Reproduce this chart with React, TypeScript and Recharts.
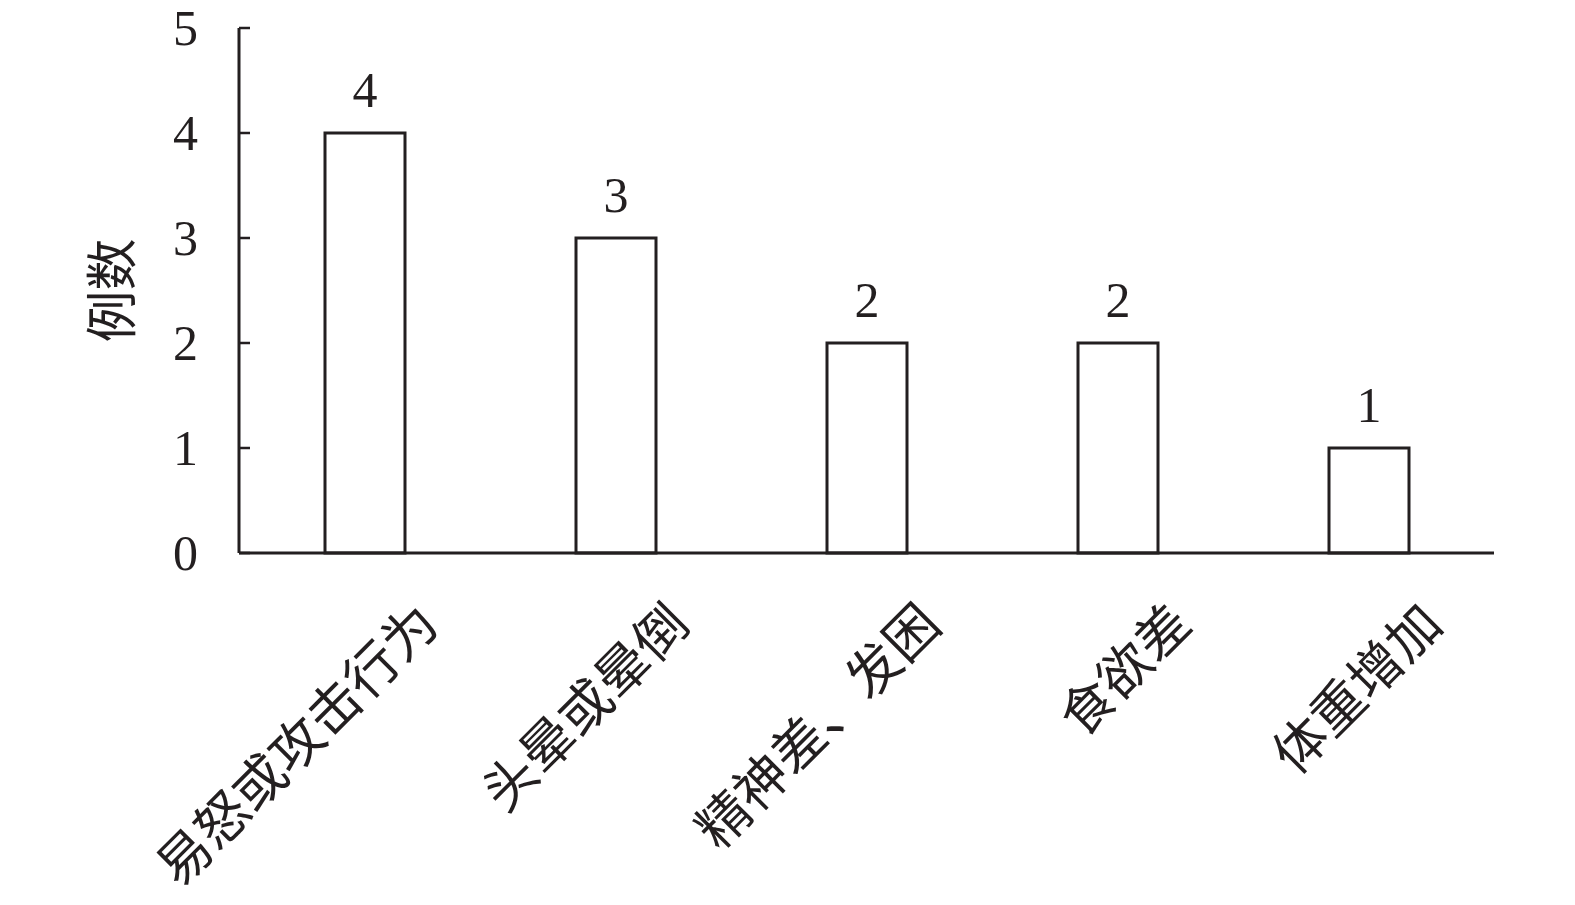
import React from 'react';
import { BarChart, Bar, XAxis, YAxis, LabelList, Label } from 'recharts';

// 不良反应类别与例数
const categories = ['易怒或攻击行为', '头晕或晕倒', '精神差、发困', '食欲差', '体重增加'];
const counts = [4, 3, 2, 2, 1];
const yTicks = [0, 1, 2, 3, 4, 5];

const data = categories.map((name, i) => ({ name, count: counts[i] }));

const INK = '#231f20';
const SERIF = '"Liberation Serif", "Times New Roman", serif';
const CJK = '"Noto Sans CJK SC", "Noto Sans", sans-serif';

// Y ticks: short inward tick mark plus a serif numeral to the left of the axis
const YTick = (props: any) => {
  const { x, y, payload } = props;
  return (
    <g>
      <line x1={x} x2={x + 11} y1={y} y2={y} stroke={INK} strokeWidth={2.5} />
      <text x={x - 41} y={y + 17} textAnchor="end" fontFamily={SERIF} fontSize={50} fill={INK}>
        {payload.value}
      </text>
    </g>
  );
};

// X ticks: category names rotated 45 degrees, ending just right of the bar
const XTick = (props: any) => {
  const { x, y, payload } = props;
  const ax = x + 77;
  const ay = y + 74;
  return (
    <text
      x={ax}
      y={ay}
      textAnchor="end"
      transform={`rotate(-45 ${ax} ${ay})`}
      fontFamily={CJK}
      fontSize={53}
      fill={INK}
    >
      {payload.value}
    </text>
  );
};

const ValueLabel = (props: any) => {
  const { x, y, width, value } = props;
  return (
    <text x={x + width / 2} y={y - 26} textAnchor="middle" fontFamily={SERIF} fontSize={50} fill={INK}>
      {value}
    </text>
  );
};

const YTitle = (props: any) => {
  const { viewBox } = props;
  const cx = viewBox.x + 19;
  const cy = viewBox.y + viewBox.height / 2;
  return (
    <text
      x={cx}
      y={cy}
      textAnchor="middle"
      dominantBaseline="central"
      transform={`rotate(-90 ${cx} ${cy})`}
      fontFamily={CJK}
      fontSize={52}
      fill={INK}
    >
      例数
    </text>
  );
};

export default function App() {
  return (
    <div style={{ background: '#fff', width: 1575, height: 905, margin: -8 }}>
      <BarChart
        width={1575}
        height={905}
        data={data}
        margin={{ top: 28, right: 81, bottom: 52, left: 89 }}
      >
        <XAxis
          dataKey="name"
          axisLine={{ stroke: INK, strokeWidth: 3 }}
          tickLine={false}
          tickSize={0}
          tickMargin={0}
          height={300}
          interval={0}
          tick={<XTick />}
        />
        <YAxis
          domain={[0, 5]}
          ticks={yTicks}
          width={150}
          axisLine={{ stroke: INK, strokeWidth: 3 }}
          tickLine={false}
          tickSize={0}
          tickMargin={0}
          interval={0}
          tick={<YTick />}
        >
          <Label content={<YTitle />} />
        </YAxis>
        <Bar
          dataKey="count"
          barSize={80}
          fill="#ffffff"
          stroke={INK}
          strokeWidth={3}
          isAnimationActive={false}
        >
          <LabelList dataKey="count" content={<ValueLabel />} />
        </Bar>
      </BarChart>
    </div>
  );
}
